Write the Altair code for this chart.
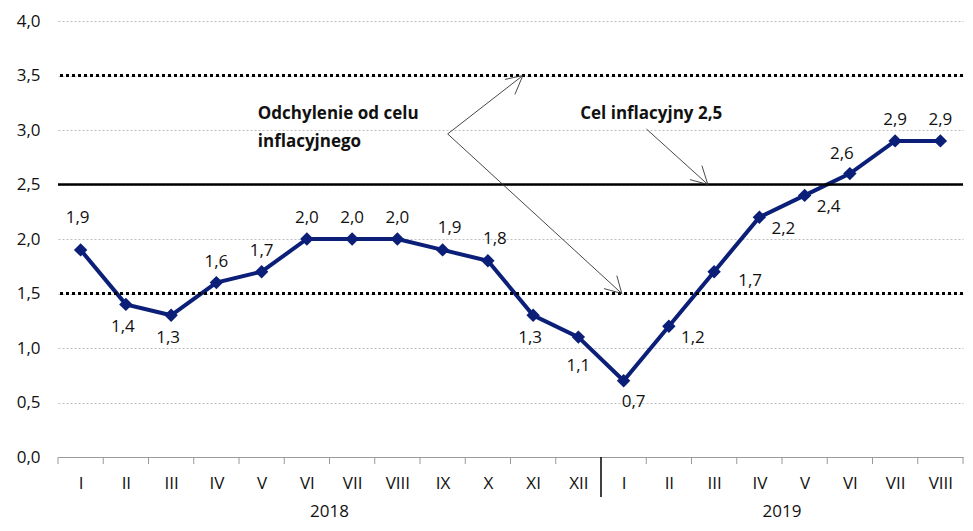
import json
import altair as alt
import pandas as pd

# ---- data ----
months = ["I", "II", "III", "IV", "V", "VI", "VII", "VIII", "IX", "X", "XI", "XII",
          "I", "II", "III", "IV", "V", "VI", "VII", "VIII"]
values = [1.9, 1.4, 1.3, 1.6, 1.7, 2.0, 2.0, 2.0, 1.9, 1.8, 1.3, 1.1,
          0.7, 1.2, 1.7, 2.2, 2.4, 2.6, 2.9, 2.9]
placement = ["high", "below", "below", "above", "above", "above", "above", "above", "aboveR", "aboveR",
             "below", "belowDeep", "belowR", "right", "rightFar", "right", "right", "aboveL", "above", "above"]
years = ["2018", "2019"]
year_centers = [5.5, 15.5]
ref_values = [3.5, 2.5, 1.5]
ref_kind = ["dotted", "solid", "dotted"]

NAVY = "#0b1f78"
FONT = "Open Sans"

df = pd.DataFrame({
    "idx": list(range(len(values))),
    "value": values,
    "label": [f"{v:.1f}".replace(".", ",") for v in values],
    "place": placement,
})

xscale = alt.Scale(domain=[-0.5, 19.5], nice=False, zero=False)
yscale = alt.Scale(domain=[0, 4], nice=False)

label_expr = json.dumps(months) + "[datum.value]"

x_axis = alt.Axis(values=list(range(20)), labelExpr=label_expr, ticks=False, grid=False,
                  domainColor="#9a9a9a", domainWidth=1, labelFontSize=17, labelFont=FONT,
                  labelColor="#111", labelPadding=18, title=None, labelFlush=False)
y_axis = alt.Axis(values=[i * 0.5 for i in range(9)],
                  labelExpr="replace(format(datum.value, '.1f'), '.', ',')",
                  ticks=False, domain=False, grid=True, gridColor="#bdbdbd", gridDash=[2, 2],
                  gridWidth=1, labelFontSize=17, labelFont=FONT, labelColor="#111",
                  labelPadding=18, title=None, minExtent=50, maxExtent=50)


def X(field):
    return alt.X(field, scale=xscale, axis=x_axis)


def Y(field):
    return alt.Y(field, scale=yscale, axis=y_axis)


base = alt.Chart(df)

line = base.mark_line(color=NAVY, strokeWidth=4).encode(x=X("idx:Q"), y=Y("value:Q"))
pts = base.mark_point(shape="diamond", filled=True, color=NAVY, size=180, opacity=1).encode(
    x=X("idx:Q"), y=Y("value:Q"))

offsets = {
    "above": (0, -21), "aboveR": (7, -22), "high": (-3, -32), "below": (-3, 23),
    "belowDeep": (0, 29), "belowR": (10, 21), "right": (24, 12), "rightFar": (36, 9),
    "aboveL": (-8, -20),
}
text_layers = []
for k, (dx, dy) in offsets.items():
    text_layers.append(
        base.transform_filter(alt.datum.place == k).mark_text(
            dx=dx, dy=dy, fontSize=17, font=FONT, color="#111", baseline="middle", align="center"
        ).encode(x=X("idx:Q"), y=Y("value:Q"), text="label:N")
    )

# reference lines
refs = pd.DataFrame({"y": ref_values, "kind": ref_kind})
dotted = alt.Chart(refs).transform_filter(alt.datum.kind == "dotted").mark_rule(
    color="#000", strokeWidth=3, strokeDash=[3, 3]
).encode(y=Y("y:Q"))
solid = alt.Chart(refs).transform_filter(alt.datum.kind == "solid").mark_rule(
    color="#000", strokeWidth=2.5
).encode(y=Y("y:Q"))

# axis ticks between months and year separator
tick_df = pd.DataFrame({"x": [i - 0.5 for i in range(21) if i != 12], "y0": 0.0})
ticks = alt.Chart(tick_df).mark_tick(
    color="#9a9a9a", orient="vertical", size=7, thickness=1, yOffset=3.5, opacity=1
).encode(x=X("x:Q"), y=Y("y0:Q"))
sep = alt.Chart(pd.DataFrame({"x": [11.5], "y0": [0.0]})).mark_tick(
    color="#000", orient="vertical", size=40, thickness=1.5, yOffset=20, opacity=1
).encode(x=X("x:Q"), y=Y("y0:Q"))
year_df = pd.DataFrame({"x": year_centers, "t": years, "y0": 0.0})
year_text = alt.Chart(year_df).mark_text(
    fontSize=17, font=FONT, color="#111", baseline="middle", dy=55
).encode(x=X("x:Q"), y=Y("y0:Q"), text="t:N")

# annotations (arrows)
seg = pd.DataFrame({
    "x": [8.112, 9.773, 9.380, 9.773, 9.598, 8.112, 11.959, 11.566, 11.959, 11.850,
          12.505, 13.861, 13.467, 13.861, 13.730],
    "y": [2.964, 3.5, 3.464, 3.5, 3.327, 2.964, 1.5, 1.545, 1.5, 1.664,
          3.009, 2.5, 2.545, 2.5, 2.673],
    "g": ["a", "a", "h1", "h1", "h1", "b", "b", "h2", "h2", "h2", "c", "c", "h3", "h3", "h3"],
    "o": list(range(15)),
})
arrows = alt.Chart(seg).mark_line(color="#333", strokeWidth=0.9).encode(
    x=X("x:Q"), y=Y("y:Q"), detail="g:N", order="o:Q",
)

ann = pd.DataFrame({
    "x": [3.915, 3.915, 11.041],
    "y": [3.145, 2.891, 3.145],
    "t": ["Odchylenie od celu", "inflacyjnego", "Cel inflacyjny 2,5"],
})
ann_text = alt.Chart(ann).mark_text(fontSize=17, font=FONT, fontWeight="bold", color="#111",
                                    align="left", baseline="middle").encode(
    x=X("x:Q"), y=Y("y:Q"), text="t:N",
)

chart = alt.layer(
    line, dotted, solid, arrows, ticks, sep, year_text, ann_text, pts, *text_layers
).properties(
    width=957, height=515,
    autosize=alt.AutoSizeParams(type="fit", contains="padding"),
    padding={"left": 0, "top": 4, "right": 0, "bottom": 3},
).configure_view(stroke=None)

chart.save("out.html", embed_options={"renderer": "svg", "actions": False})
